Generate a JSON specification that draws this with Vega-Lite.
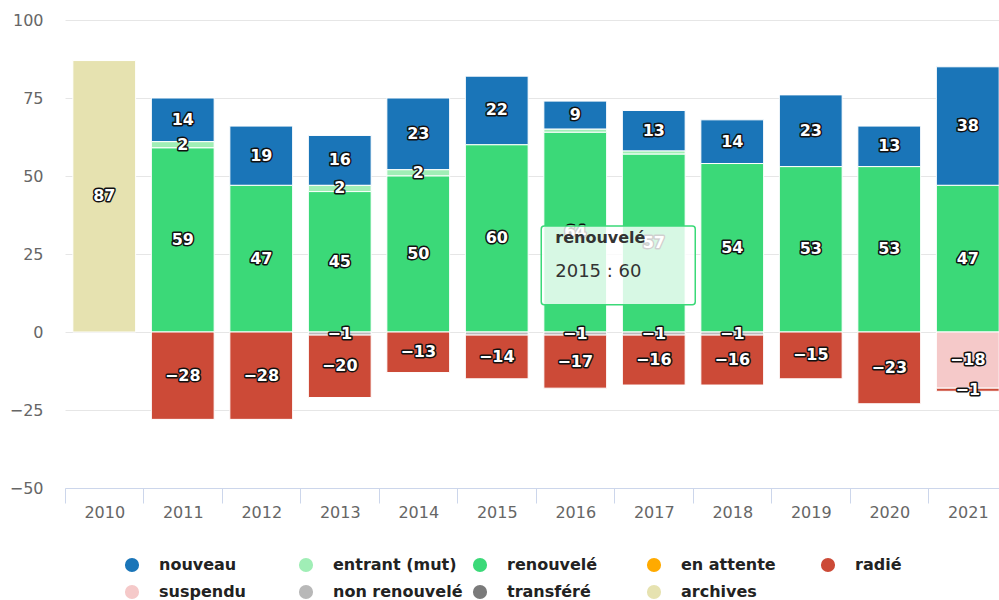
{
  "$schema": "https://vega.github.io/schema/vega-lite/v6.json",
  "autosize": "none",
  "width": 934,
  "height": 468,
  "padding": {"left": 65, "top": 20, "right": 0, "bottom": 112},
  "background": "white",
  "config": {"view": {"stroke": null}},
  "layer": [
    {
      "data": {"values": [
        {"year": "2010", "series": "archives", "value": 87},
        {"year": "2011", "series": "nouveau", "value": 14},
        {"year": "2011", "series": "entrant (mut)", "value": 2},
        {"year": "2011", "series": "renouvelé", "value": 59},
        {"year": "2011", "series": "radié", "value": -28},
        {"year": "2012", "series": "nouveau", "value": 19},
        {"year": "2012", "series": "renouvelé", "value": 47},
        {"year": "2012", "series": "radié", "value": -28},
        {"year": "2013", "series": "nouveau", "value": 16},
        {"year": "2013", "series": "entrant (mut)", "value": 2},
        {"year": "2013", "series": "renouvelé", "value": 45},
        {"year": "2013", "series": "non renouvelé", "value": -1},
        {"year": "2013", "series": "radié", "value": -20},
        {"year": "2014", "series": "nouveau", "value": 23},
        {"year": "2014", "series": "entrant (mut)", "value": 2},
        {"year": "2014", "series": "renouvelé", "value": 50},
        {"year": "2014", "series": "radié", "value": -13},
        {"year": "2015", "series": "nouveau", "value": 22},
        {"year": "2015", "series": "renouvelé", "value": 60},
        {"year": "2015", "series": "non renouvelé", "value": -1},
        {"year": "2015", "series": "radié", "value": -14},
        {"year": "2016", "series": "nouveau", "value": 9},
        {"year": "2016", "series": "entrant (mut)", "value": 1},
        {"year": "2016", "series": "renouvelé", "value": 64},
        {"year": "2016", "series": "non renouvelé", "value": -1},
        {"year": "2016", "series": "radié", "value": -17},
        {"year": "2017", "series": "nouveau", "value": 13},
        {"year": "2017", "series": "entrant (mut)", "value": 1},
        {"year": "2017", "series": "renouvelé", "value": 57},
        {"year": "2017", "series": "non renouvelé", "value": -1},
        {"year": "2017", "series": "radié", "value": -16},
        {"year": "2018", "series": "nouveau", "value": 14},
        {"year": "2018", "series": "renouvelé", "value": 54},
        {"year": "2018", "series": "non renouvelé", "value": -1},
        {"year": "2018", "series": "radié", "value": -16},
        {"year": "2019", "series": "nouveau", "value": 23},
        {"year": "2019", "series": "renouvelé", "value": 53},
        {"year": "2019", "series": "radié", "value": -15},
        {"year": "2020", "series": "nouveau", "value": 13},
        {"year": "2020", "series": "renouvelé", "value": 53},
        {"year": "2020", "series": "radié", "value": -23},
        {"year": "2021", "series": "nouveau", "value": 38},
        {"year": "2021", "series": "renouvelé", "value": 47},
        {"year": "2021", "series": "suspendu", "value": -18},
        {"year": "2021", "series": "radié", "value": -1}
      ]},
      "transform": [
        {"calculate": "indexof(['nouveau','entrant (mut)','renouvelé','en attente','radié','suspendu','non renouvelé','transféré','archives'], datum.series)", "as": "k"},
        {"stack": "value", "groupby": ["year"], "sort": [{"field": "k", "order": "descending"}], "offset": "zero", "as": ["v0", "v1"]},
        {"calculate": "(datum.v0 + datum.v1) / 2", "as": "mid"}
      ],
      "layer": [
        {
          "mark": {"type": "bar", "stroke": "white", "strokeWidth": 1},
          "encoding": {
            "x": {
              "field": "year", "type": "nominal", "sort": null,
              "scale": {"range": [0, 942], "paddingInner": 0.2, "paddingOuter": 0.1},
              "axis": {
                "title": null, "grid": false, "labelAngle": 0,
                "bandPosition": 0, "tickOffset": -7.85, "labelOffset": 7.85,
                "tickSize": 15, "tickColor": "#ccd6eb", "tickWidth": 1,
                "domainColor": "#ccd6eb", "domainWidth": 1,
                "labelPadding": 1, "labelFont": "DejaVu Sans", "labelFontSize": 16, "labelColor": "#666666"
              }
            },
            "y": {
              "field": "v1", "type": "quantitative",
              "scale": {"domain": [-50, 100], "nice": false, "zero": false},
              "axis": {
                "title": null, "values": [-50, -25, 0, 25, 50, 75, 100],
                "domain": false, "ticks": false, "labelPadding": 22,
                "labelFont": "DejaVu Sans", "labelFontSize": 16, "labelColor": "#666666",
                "gridColor": "#e6e6e6", "gridWidth": 1
              }
            },
            "y2": {"field": "v0"},
            "color": {
              "field": "series", "type": "nominal",
              "scale": {
                "domain": ["nouveau", "entrant (mut)", "renouvelé", "en attente", "radié", "suspendu", "non renouvelé", "transféré", "archives"],
                "range": ["#1a75b8", "#a0eeb6", "#3bd978", "#ffaa00", "#cc4a37", "#f5c9c9", "#b8b8b8", "#7a7a7a", "#e6e2b0"]
              },
              "legend": {
                "title": null, "orient": "none", "legendX": 59, "legendY": 537,
                "direction": "horizontal", "columns": 5, "gridAlign": "all",
                "columnPadding": 9, "rowPadding": 11,
                "symbolType": "circle", "symbolSize": 200, "symbolStrokeWidth": 0,
                "labelOffset": 19, "labelFont": "DejaVu Sans", "labelFontSize": 16,
                "labelFontWeight": "bold", "labelColor": "#222222", "labelLimit": 300
              }
            }
          }
        },
        {
          "transform": [{"filter": "datum.value != 1 && !(datum.year == '2015' && datum.series == 'non renouvelé')"}],
          "mark": {"type": "text", "font": "DejaVu Sans", "fontSize": 16, "fontWeight": "bold", "fill": "white", "stroke": "#111111", "strokeWidth": 3, "strokeJoin": "round", "baseline": "middle", "align": "center"},
          "encoding": {
            "x": {"field": "year", "type": "nominal", "sort": null},
            "y": {"field": "mid", "type": "quantitative"},
            "text": {"field": "value", "type": "quantitative"}
          }
        },
        {
          "transform": [{"filter": "datum.value != 1 && !(datum.year == '2015' && datum.series == 'non renouvelé')"}],
          "mark": {"type": "text", "font": "DejaVu Sans", "fontSize": 16, "fontWeight": "bold", "fill": "white", "baseline": "middle", "align": "center"},
          "encoding": {
            "x": {"field": "year", "type": "nominal", "sort": null},
            "y": {"field": "mid", "type": "quantitative"},
            "text": {"field": "value", "type": "quantitative"}
          }
        }
      ]
    },
    {
      "data": {"values": [{"title": "renouvelé", "detail": "2015 : 60"}]},
      "layer": [
        {
          "mark": {"type": "rect", "fill": "#ffffff", "fillOpacity": 0.8, "stroke": "#3bd978", "strokeWidth": 1.5, "cornerRadius": 3, "xOffset": -34, "x2Offset": -37},
          "encoding": {
            "x": {"datum": "2016", "type": "nominal"},
            "x2": {"datum": "2018"},
            "y": {"datum": 34, "type": "quantitative"},
            "y2": {"datum": 8.7}
          }
        },
        {
          "mark": {"type": "text", "font": "DejaVu Sans", "fontSize": 16, "fontWeight": "bold", "fill": "#333333", "align": "left", "baseline": "middle", "xOffset": -20},
          "encoding": {
            "x": {"datum": "2016", "type": "nominal"},
            "y": {"datum": 30.2, "type": "quantitative"},
            "text": {"field": "title"}
          }
        },
        {
          "mark": {"type": "text", "font": "DejaVu Sans", "fontSize": 18, "fill": "#333333", "align": "left", "baseline": "middle", "xOffset": -20},
          "encoding": {
            "x": {"datum": "2016", "type": "nominal"},
            "y": {"datum": 19.3, "type": "quantitative"},
            "text": {"field": "detail"}
          }
        }
      ]
    }
  ]
}
